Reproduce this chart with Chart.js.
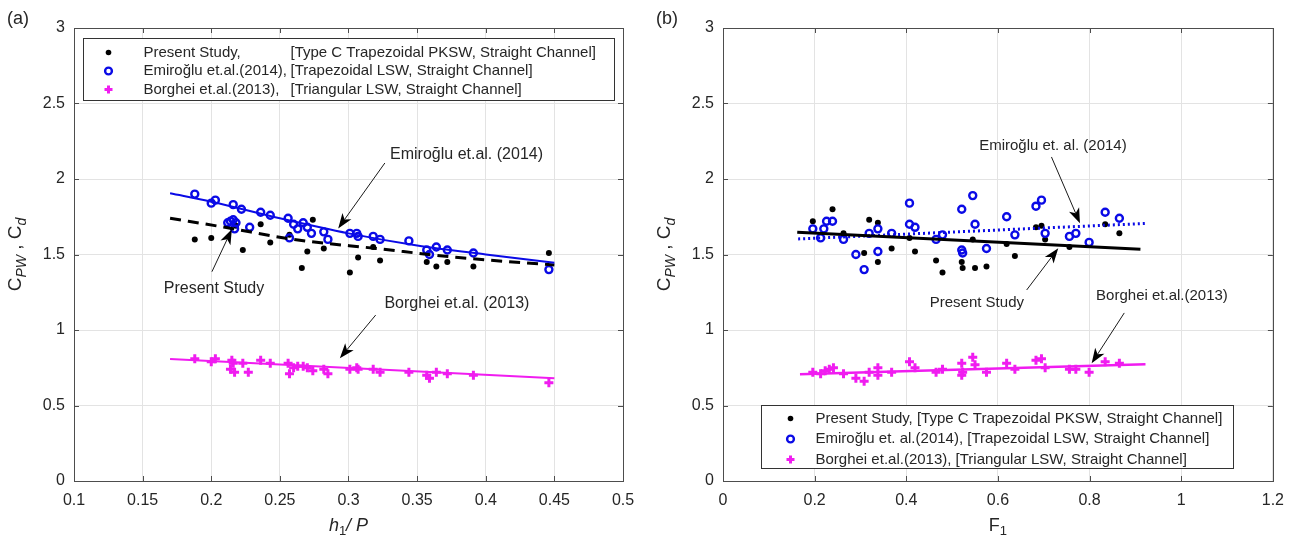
<!DOCTYPE html>
<html lang="en">
<head>
<meta charset="UTF-8">
<title>Discharge coefficient comparison</title>
<style>
  body { margin: 0; background: #fff; }
  .panel { position: absolute; top: 0; width: 647px; height: 545px; }
</style>
</head>
<body>
<div class="panel" style="left:0"><canvas id="chartA"></canvas></div>
<div class="panel" style="left:647px"><canvas id="chartB"></canvas></div>

<script src="https://cdn.jsdelivr.net/npm/chart.js@4.4.1/dist/chart.umd.min.js"></script>
<script>
// ---- panel (a): Cd against h1/P ----
const aPresentX = [0.188,0.200,0.223,0.236,0.243,0.257,0.266,0.270,0.274,0.282,0.301,0.307,0.318,0.323,0.357,0.364,0.372,0.391,0.446,0.218];
const aPresentY = [1.60,1.61,1.53,1.70,1.58,1.63,1.41,1.52,1.73,1.54,1.38,1.48,1.55,1.46,1.45,1.42,1.45,1.42,1.51,1.69];
const aEmiX = [0.188,0.200,0.203,0.216,0.222,0.236,0.243,0.212,0.214,0.216,0.218,0.217,0.228,0.256,0.257,0.260,0.263,0.267,0.270,0.273,0.282,0.285,0.301,0.306,0.307,0.318,0.323,0.344,0.357,0.359,0.364,0.372,0.391,0.446];
const aEmiY = [1.90,1.84,1.86,1.83,1.80,1.78,1.76,1.71,1.72,1.73,1.71,1.67,1.68,1.74,1.61,1.70,1.67,1.71,1.68,1.64,1.65,1.60,1.64,1.64,1.62,1.62,1.60,1.59,1.53,1.50,1.55,1.53,1.51,1.40];
const aBorX = [0.188,0.200,0.203,0.215,0.216,0.223,0.214,0.217,0.227,0.236,0.243,0.256,0.257,0.260,0.263,0.267,0.270,0.274,0.282,0.285,0.301,0.306,0.307,0.318,0.323,0.344,0.357,0.359,0.364,0.372,0.391,0.446];
const aBorY = [0.81,0.79,0.81,0.80,0.78,0.78,0.74,0.72,0.72,0.80,0.78,0.78,0.71,0.75,0.76,0.76,0.75,0.73,0.74,0.71,0.74,0.75,0.74,0.74,0.72,0.72,0.70,0.68,0.72,0.71,0.70,0.65];
// fitted trend lines
const aEmiFitX = [0.17,0.20,0.25,0.30,0.35,0.40,0.45];
const aEmiFitY = [1.905,1.85,1.74,1.64,1.56,1.50,1.445];
const aPresentFitX = [0.17,0.21,0.26,0.32,0.38,0.45];
const aPresentFitY = [1.74,1.68,1.60,1.54,1.48,1.43];
const aBorFitX = [0.17,0.45];
const aBorFitY = [0.808,0.68];
const aTicksX = [0.1,0.15,0.2,0.25,0.3,0.35,0.4,0.45,0.5];
const aTickLabelsX = ['0.1','0.15','0.2','0.25','0.3','0.35','0.4','0.45','0.5'];

// ---- panel (b): Cd against F1 ----
const bPresentX = [0.196,0.239,0.263,0.308,0.319,0.338,0.338,0.368,0.407,0.419,0.465,0.479,0.521,0.523,0.545,0.550,0.575,0.619,0.637,0.683,0.695,0.703,0.756,0.834,0.865];
const bPresentY = [1.72,1.80,1.64,1.51,1.73,1.71,1.45,1.54,1.61,1.52,1.46,1.38,1.45,1.41,1.60,1.41,1.42,1.57,1.49,1.68,1.69,1.60,1.55,1.70,1.64];
const bEmiX = [0.196,0.213,0.220,0.226,0.239,0.263,0.290,0.308,0.319,0.338,0.338,0.368,0.407,0.407,0.419,0.465,0.479,0.521,0.521,0.523,0.545,0.550,0.575,0.619,0.637,0.683,0.695,0.703,0.756,0.770,0.799,0.834,0.865];
const bEmiY = [1.67,1.61,1.67,1.72,1.72,1.60,1.50,1.40,1.64,1.52,1.67,1.64,1.84,1.70,1.68,1.60,1.63,1.80,1.53,1.51,1.89,1.70,1.54,1.75,1.63,1.82,1.86,1.64,1.62,1.64,1.58,1.78,1.74];
const bBorX = [0.196,0.213,0.223,0.232,0.241,0.263,0.290,0.308,0.319,0.338,0.338,0.368,0.407,0.419,0.465,0.479,0.521,0.521,0.523,0.545,0.550,0.575,0.619,0.637,0.683,0.695,0.703,0.756,0.770,0.799,0.834,0.865];
const bBorY = [0.72,0.71,0.73,0.74,0.75,0.71,0.68,0.66,0.72,0.75,0.70,0.72,0.79,0.75,0.72,0.74,0.78,0.70,0.72,0.82,0.77,0.72,0.78,0.74,0.80,0.81,0.75,0.74,0.74,0.72,0.79,0.78];
const bPresentFitX = [0.162,0.911];
const bPresentFitY = [1.647,1.534];
const bEmiFitX = [0.164,0.925];
const bEmiFitY = [1.603,1.706];
const bBorFitX = [0.168,0.922];
const bBorFitY = [0.707,0.773];
const bTicksX = [0,0.2,0.4,0.6,0.8,1,1.2];
const bTickLabelsX = ['0','0.2','0.4','0.6','0.8','1','1.2'];

const ticksY = [0,0.5,1,1.5,2,2.5,3];
const tickLabelsY = ['0','0.5','1','1.5','2','2.5','3'];

const FONT = '"Liberation Sans", Arial, Helvetica, sans-serif';
const INK = '#262626';
const AXIS = '#4d4d4d';
const BLUE = '#0a0ae6';
const MAGENTA = '#f01cf0';

function pts(xs, ys) { return xs.map((x, i) => ({ x: x, y: ys[i] })); }

function fitLine(xs, ys, color, width, dash) {
  return {
    type: 'line', data: pts(xs, ys), order: 0,
    borderColor: color, borderWidth: width, borderDash: dash || [],
    pointRadius: 0, fill: false, cubicInterpolationMode: 'monotone'
  };
}

function scatterSets(px, py, ex, ey, bx, by) {
  return [
    { type: 'scatter', data: pts(bx, by), order: 1, pointStyle: 'cross', pointRadius: 4.5,
      borderColor: MAGENTA, borderWidth: 3 },
    { type: 'scatter', data: pts(ex, ey), order: 1, pointStyle: 'circle', pointRadius: 3.5,
      backgroundColor: 'rgba(0,0,0,0)', borderColor: BLUE, borderWidth: 2.4 },
    { type: 'scatter', data: pts(px, py), order: 1, pointStyle: 'circle', pointRadius: 3,
      backgroundColor: '#000', borderWidth: 0 }
  ];
}

// text made of pieces, some italic and/or subscripted
function richText(ctx, parts, x, y, size) {
  const subSize = Math.round(size * 0.72);
  const fontOf = p => (p.i ? 'italic ' : '') + (p.sub ? subSize : size) + 'px ' + FONT;
  let total = 0;
  parts.forEach(p => { ctx.font = fontOf(p); p.w = ctx.measureText(p.t).width; total += p.w; });
  let cx = x - total / 2;
  ctx.textAlign = 'left';
  ctx.textBaseline = 'middle';
  parts.forEach(p => {
    ctx.font = fontOf(p);
    ctx.fillText(p.t, cx, p.sub ? y + size * 0.32 : y);
    cx += p.w;
  });
}

function arrow(ctx, x0, y0, x1, y1) {
  const dx = x1 - x0, dy = y1 - y0, len = Math.hypot(dx, dy);
  const ux = dx / len, uy = dy / len, nx = -uy, ny = ux;
  const L = 15, W = 5.5, notch = 4;
  ctx.strokeStyle = '#1a1a1a';
  ctx.fillStyle = '#000';
  ctx.lineWidth = 1;
  ctx.beginPath();
  ctx.moveTo(x0, y0);
  ctx.lineTo(x1 - (L - notch) * ux, y1 - (L - notch) * uy);
  ctx.stroke();
  ctx.beginPath();
  ctx.moveTo(x1, y1);
  ctx.lineTo(x1 - L * ux + W * nx, y1 - L * uy + W * ny);
  ctx.lineTo(x1 - (L - notch) * ux, y1 - (L - notch) * uy);
  ctx.lineTo(x1 - L * ux - W * nx, y1 - L * uy - W * ny);
  ctx.closePath();
  ctx.fill();
}

function legendMarker(ctx, kind, x, y) {
  ctx.save();
  if (kind === 'dot') {
    ctx.fillStyle = '#000';
    ctx.beginPath(); ctx.arc(x, y, 2.8, 0, Math.PI * 2); ctx.fill();
  } else if (kind === 'ring') {
    ctx.strokeStyle = BLUE; ctx.lineWidth = 2.4;
    ctx.beginPath(); ctx.arc(x, y, 3.4, 0, Math.PI * 2); ctx.stroke();
  } else {
    ctx.strokeStyle = MAGENTA; ctx.lineWidth = 3;
    ctx.beginPath(); ctx.moveTo(x - 4, y); ctx.lineTo(x + 4, y);
    ctx.moveTo(x, y - 4); ctx.lineTo(x, y + 4); ctx.stroke();
  }
  ctx.restore();
}

// box, inward ticks, legend, arrows and axis titles
const decor = {
  id: 'decor',
  afterDatasetsDraw(chart, args, o) {
    const { ctx, chartArea: a, scales } = chart;
    ctx.save();
    ctx.strokeStyle = AXIS;
    ctx.lineWidth = 1;
    ctx.beginPath();
    o.ticksX.forEach(v => {
      const p = Math.round(scales.x.getPixelForValue(v)) + 0.5;
      ctx.moveTo(p, a.bottom); ctx.lineTo(p, a.bottom - 5);
      ctx.moveTo(p, a.top); ctx.lineTo(p, a.top + 5);
    });
    ticksY.forEach(v => {
      const p = Math.round(scales.y.getPixelForValue(v)) + 0.5;
      ctx.moveTo(a.left, p); ctx.lineTo(a.left + 5, p);
      ctx.moveTo(a.right, p); ctx.lineTo(a.right - 5, p);
    });
    ctx.stroke();
    ctx.strokeRect(Math.round(a.left) + 0.5, Math.round(a.top) + 0.5,
      Math.round(a.right - a.left), Math.round(a.bottom - a.top));
    ctx.restore();
  },
  afterDraw(chart, args, o) {
    const { ctx, chartArea: a, scales } = chart;
    const X = v => scales.x.getPixelForValue(v);
    const Y = v => scales.y.getPixelForValue(v);
    ctx.save();

    // annotations with arrows
    o.notes.forEach(n => {
      arrow(ctx, X(n.ax), Y(n.ay), X(n.hx), Y(n.hy));
      ctx.fillStyle = INK;
      ctx.font = n.size + 'px ' + FONT;
      ctx.textAlign = 'center';
      ctx.textBaseline = 'middle';
      ctx.fillText(n.text, X(n.tx), Y(n.ty));
    });

    // legend
    const g = o.legend;
    const bx = Math.round(a.left + g.dx) + 0.5;
    const by = Math.round(g.fromBottom ? a.bottom - g.dy : a.top + g.dy) + 0.5;
    ctx.fillStyle = '#fff';
    ctx.fillRect(bx, by, g.w, g.h);
    ctx.strokeStyle = '#333';
    ctx.lineWidth = 1;
    ctx.strokeRect(bx, by, g.w, g.h);
    ctx.font = '15px ' + FONT;
    ctx.textAlign = 'left';
    ctx.textBaseline = 'middle';
    g.rows.forEach((r, i) => {
      const ry = by + g.firstRow + i * g.rowGap;
      legendMarker(ctx, r.kind, bx + g.markerX, ry);
      ctx.fillStyle = INK;
      ctx.fillText(r.name, bx + g.textX, ry);
      if (r.note) ctx.fillText(r.note, bx + g.noteX, ry);
    });

    // axis titles and panel letter
    ctx.fillStyle = INK;
    richText(ctx, o.xTitle, (a.left + a.right) / 2, 526, 18);
    ctx.save();
    ctx.translate(a.left - 58, (a.top + a.bottom) / 2);
    ctx.rotate(-Math.PI / 2);
    richText(ctx, [{ t: 'C' }, { t: 'PW', i: true, sub: true }, { t: ' , ' }, { t: 'C' }, { t: 'd', i: true, sub: true }], 0, 0, 19);
    ctx.restore();
    ctx.font = '18px ' + FONT;
    ctx.textAlign = 'center';
    ctx.textBaseline = 'middle';
    ctx.fillText(o.letter, a.left - 56, 19);
    ctx.restore();
  }
};

function axisOptions(min, max, ticks, labels, yWidth) {
  return {
    x: {
      type: 'linear', min: min, max: max,
      afterBuildTicks: s => { s.ticks = ticks.map(v => ({ value: v })); },
      afterFit: s => { s.height = 64; },
      grid: { color: '#e3e3e3', drawTicks: false },
      border: { display: false },
      ticks: {
        autoSkip: false, maxRotation: 0, padding: 10, color: INK,
        font: { family: FONT, size: 16 },
        callback: (v, i) => labels[i]
      }
    },
    y: {
      type: 'linear', min: 0, max: 3,
      afterBuildTicks: s => { s.ticks = ticksY.map(v => ({ value: v })); },
      afterFit: s => { s.width = yWidth; },
      grid: { color: '#e3e3e3', drawTicks: false },
      border: { display: false },
      ticks: {
        padding: 9, color: INK,
        font: { family: FONT, size: 16 },
        callback: (v, i) => tickLabelsY[i]
      }
    }
  };
}

Chart.register(decor);

new Chart(document.getElementById('chartA'), {
  type: 'scatter',
  data: {
    datasets: [
      fitLine(aEmiFitX, aEmiFitY, BLUE, 2),
      fitLine(aPresentFitX, aPresentFitY, '#000', 3, [11, 7]),
      fitLine(aBorFitX, aBorFitY, MAGENTA, 2)
    ].concat(scatterSets(aPresentX, aPresentY, aEmiX, aEmiY, aBorX, aBorY))
  },
  options: {
    responsive: true, maintainAspectRatio: false, animation: false,
    layout: { padding: { top: 28, right: 24, left: 0, bottom: 0 } },
    scales: axisOptions(0.1, 0.5, aTicksX, aTickLabelsX, 74),
    plugins: {
      legend: { display: false }, tooltip: { enabled: false },
      decor: {
        ticksX: aTicksX,
        letter: '(a)',
        xTitle: [{ t: 'h', i: true }, { t: '1', sub: true }, { t: '/ P', i: true }],
        notes: [
          { text: 'Emiroğlu et.al. (2014)', size: 16, tx: 0.386, ty: 2.16, ax: 0.3265, ay: 2.106, hx: 0.2925, hy: 1.673 },
          { text: 'Present Study', size: 16, tx: 0.202, ty: 1.276, ax: 0.2005, ay: 1.386, hx: 0.215, hy: 1.667 },
          { text: 'Borghei et.al. (2013)', size: 16, tx: 0.379, ty: 1.177, ax: 0.3198, ay: 1.099, hx: 0.2937, hy: 0.813 }
        ],
        legend: {
          dx: 9, dy: 9.5, w: 531, h: 62, fromBottom: false,
          firstRow: 14, rowGap: 18.5, markerX: 25, textX: 60, noteX: 207,
          rows: [
            { kind: 'dot', name: 'Present Study,', note: '[Type C Trapezoidal PKSW, Straight Channel]' },
            { kind: 'ring', name: 'Emiroğlu et.al.(2014),', note: '[Trapezoidal LSW, Straight Channel]' },
            { kind: 'plus', name: 'Borghei et.al.(2013),', note: '[Triangular LSW, Straight Channel]' }
          ]
        }
      }
    }
  }
});

new Chart(document.getElementById('chartB'), {
  type: 'scatter',
  data: {
    datasets: [
      fitLine(bPresentFitX, bPresentFitY, '#000', 3),
      fitLine(bEmiFitX, bEmiFitY, BLUE, 3, [2, 3]),
      fitLine(bBorFitX, bBorFitY, MAGENTA, 2.5)
    ].concat(scatterSets(bPresentX, bPresentY, bEmiX, bEmiY, bBorX, bBorY))
  },
  options: {
    responsive: true, maintainAspectRatio: false, animation: false,
    layout: { padding: { top: 28, right: 21, left: 0, bottom: 0 } },
    scales: axisOptions(0, 1.2, bTicksX, bTickLabelsX, 76),
    plugins: {
      legend: { display: false }, tooltip: { enabled: false },
      decor: {
        ticksX: bTicksX,
        letter: '(b)',
        xTitle: [{ t: 'F' }, { t: '1', sub: true }],
        notes: [
          { text: 'Emiroğlu et. al. (2014)', size: 15, tx: 0.72, ty: 2.219, ax: 0.7168, ay: 2.146, hx: 0.779, hy: 1.707 },
          { text: 'Present Study', size: 15, tx: 0.554, ty: 1.179, ax: 0.6627, ay: 1.265, hx: 0.7316, hy: 1.541 },
          { text: 'Borghei et.al.(2013)', size: 15, tx: 0.958, ty: 1.225, ax: 0.8757, ay: 1.113, hx: 0.8045, hy: 0.779 }
        ],
        legend: {
          dx: 37.5, dy: 76, w: 472, h: 63, fromBottom: true,
          firstRow: 13, rowGap: 20.5, markerX: 29, textX: 54, noteX: 0,
          rows: [
            { kind: 'dot', name: 'Present Study, [Type C Trapezoidal PKSW, Straight Channel]' },
            { kind: 'ring', name: 'Emiroğlu et. al.(2014), [Trapezoidal LSW, Straight Channel]' },
            { kind: 'plus', name: 'Borghei et.al.(2013), [Triangular LSW, Straight Channel]' }
          ]
        }
      }
    }
  }
});
</script>
</body>
</html>
